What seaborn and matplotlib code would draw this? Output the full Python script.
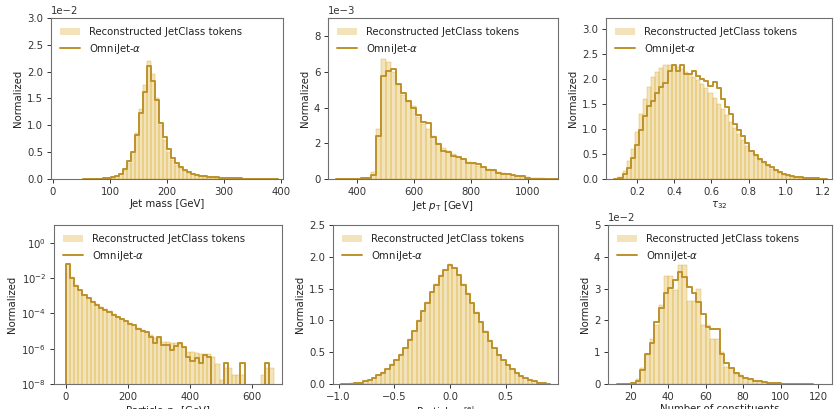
import numpy as np
import pandas as pd
import matplotlib
matplotlib.use("Agg")
import matplotlib.pyplot as plt
import seaborn as sns
from matplotlib.patches import Patch
from matplotlib.lines import Line2D
from matplotlib.ticker import MultipleLocator, NullLocator, FixedLocator

# ---------------- data ----------------
legend_labels = ["Reconstructed JetClass tokens", r"OmniJet-$\alpha$"]
x_labels = ["Jet mass [GeV]", r"Jet $p_\mathrm{T}$ [GeV]", r"$\tau_{32}$",
            r"Particle $p_\mathrm{T}$ [GeV]", r"Particle $\eta^\mathrm{rel}$",
            "Number of constituents"]

# Jet mass: bins of 7 GeV from 59 to 388
mass_bins = (59, 388, 47)
mass_tokens = [0.002, 0.003, 0.004, 0.006, 0.009, 0.014, 0.025, 0.05, 0.09, 0.17, 0.30, 0.50,
               0.85, 1.30, 1.75, 2.20, 1.95, 1.50, 1.00, 0.72, 0.50, 0.36, 0.27, 0.20, 0.15,
               0.12, 0.09, 0.07, 0.055, 0.045, 0.038, 0.032, 0.027, 0.022, 0.019, 0.016,
               0.013, 0.011, 0.009, 0.008, 0.007, 0.006, 0.005, 0.004, 0.003, 0.003, 0.002]
mass_omni = [0.002, 0.003, 0.005, 0.007, 0.01, 0.015, 0.03, 0.06, 0.10, 0.18, 0.33, 0.51,
             0.82, 1.23, 1.63, 2.10, 1.82, 1.47, 1.04, 0.79, 0.55, 0.40, 0.29, 0.22, 0.17,
             0.13, 0.10, 0.08, 0.06, 0.05, 0.04, 0.035, 0.03, 0.025, 0.02, 0.018, 0.015,
             0.012, 0.01, 0.008, 0.007, 0.006, 0.005, 0.004, 0.003, 0.003, 0.002]  # x1e-2

# Jet pT: bins of 17.5 GeV from 345
pt_bins = (345, 1097.5, 43)
pt_tokens = [0.01, 0.01, 0.01, 0.02, 0.03, 0.06, 0.4, 2.8, 6.75, 6.55, 6.0, 5.3, 4.7, 4.3,
             4.1, 3.5, 3.1, 2.8, 2.4, 2.0, 1.75, 1.55, 1.4, 1.25, 1.1, 0.95, 0.85, 0.75,
             0.65, 0.55, 0.45, 0.38, 0.32, 0.26, 0.22, 0.18, 0.14, 0.1, 0.07, 0.05, 0.03,
             0.02, 0.01]
pt_omni = [0.02, 0.02, 0.02, 0.02, 0.03, 0.05, 0.25, 2.4, 5.75, 6.05, 6.15, 5.35, 4.85, 4.35,
           4.0, 3.6, 3.2, 3.15, 2.35, 1.95, 1.55, 1.5, 1.3, 1.25, 1.1, 0.9, 0.88, 0.82,
           0.7, 0.5, 0.48, 0.36, 0.27, 0.3, 0.25, 0.18, 0.15, 0.05, 0.02, 0, 0, 0, 0]  # x1e-3

# tau32: 50 bins from 0.1 to 1.2
tau_bins = (0.1, 1.2, 50)
tau_tokens = [0.03, 0.15, 0.35, 0.6, 0.95, 1.3, 1.6, 1.85, 2.05, 2.15, 2.22, 2.28, 2.28, 2.28,
              2.25, 2.2, 2.15, 2.1, 2.05, 1.98, 1.9, 1.82, 1.72, 1.62, 1.5, 1.4, 1.28, 1.15,
              1.02, 0.9, 0.78, 0.66, 0.55, 0.46, 0.38, 0.31, 0.25, 0.2, 0.15, 0.11, 0.08,
              0.06, 0.04, 0.03, 0.02, 0.015, 0.01, 0.008, 0.005, 0.003]
tau_omni = [0.02, 0.1, 0.22, 0.42, 0.68, 0.98, 1.26, 1.46, 1.55, 1.72, 1.85, 1.93, 2.17, 2.28,
            2.17, 2.28, 2.1, 2.11, 2.16, 2.06, 2.0, 1.97, 1.86, 1.95, 1.82, 1.6, 1.45, 1.3,
            1.1, 0.98, 0.86, 0.72, 0.55, 0.47, 0.4, 0.34, 0.28, 0.24, 0.18, 0.14, 0.1,
            0.07, 0.05, 0.04, 0.03, 0.02, 0.02, 0.01, 0.01, 0.005]

# particle pT: 50 bins from 0 to 670 GeV (log scale)
ppt_bins = (0, 670, 50)
ppt_tokens = [6.3e-2, 1.1e-2, 4.0e-3, 2.0e-3, 1.1e-3, 7.1e-4, 4.7e-4, 3.2e-4, 2.2e-4, 1.7e-4,
              1.3e-4, 8.9e-5, 6.3e-5, 4.8e-5, 3.7e-5, 2.8e-5, 2.2e-5, 1.4e-5, 1.1e-5, 8.9e-6,
              6.3e-6, 4.0e-6, 4.0e-6, 2.5e-6, 2.5e-6, 2.2e-6, 2.0e-6, 1.8e-6, 1.3e-6, 6.3e-7,
              6.3e-7, 5.6e-7, 5.0e-7, 5.0e-7, 5.0e-7, 3.2e-7, 1.3e-7, 1.6e-8, 7.9e-8, 7.9e-8,
              3.2e-8, 3.2e-8, 3.2e-8, 0, 0, 0, 0, 3.2e-8, 7.9e-8, 7.9e-8]
ppt_omni = [5.9e-2, 1.0e-2, 3.7e-3, 2.0e-3, 1.1e-3, 7.1e-4, 4.6e-4, 3.0e-4, 2.1e-4, 1.6e-4,
            1.2e-4, 8.3e-5, 6.0e-5, 4.5e-5, 3.5e-5, 2.6e-5, 2.2e-5, 1.3e-5, 1.0e-5, 8.7e-6,
            4.8e-6, 2.0e-6, 4.5e-6, 1.6e-6, 1.6e-6, 8.3e-7, 1.4e-6, 2.2e-6, 1.3e-6, 3.2e-7,
            1.9e-7, 2.8e-7, 1.5e-7, 4.2e-7, 3.4e-7, 0, 0, 0, 1.5e-7, 0,
            0, 0, 1.5e-7, 0, 0, 0, 0, 0, 1.5e-7, 0]

# particle eta_rel: 45 bins of 0.04 from -0.94 to 0.86
eta_bins = (-0.94, 0.86, 45)
eta_tokens = [0.004, 0.008, 0.012, 0.02, 0.04, 0.07, 0.10, 0.14, 0.19, 0.24, 0.31, 0.38, 0.47,
              0.57, 0.70, 0.84, 1.00, 1.15, 1.29, 1.45, 1.58, 1.71, 1.80, 1.88, 1.83, 1.72,
              1.57, 1.43, 1.28, 1.13, 0.98, 0.83, 0.69, 0.57, 0.46, 0.37, 0.30, 0.23, 0.18,
              0.13, 0.09, 0.06, 0.04, 0.02, 0.008]
eta_omni = [0.003, 0.006, 0.01, 0.02, 0.04, 0.07, 0.10, 0.14, 0.18, 0.24, 0.30, 0.38, 0.46,
            0.56, 0.69, 0.83, 0.99, 1.14, 1.27, 1.44, 1.56, 1.70, 1.79, 1.87, 1.82, 1.71,
            1.56, 1.42, 1.27, 1.12, 0.97, 0.82, 0.68, 0.56, 0.46, 0.37, 0.30, 0.23, 0.18,
            0.13, 0.09, 0.06, 0.04, 0.02, 0.008]

# number of constituents: 40 bins of 2.5 from 15 to 115
n_bins = (15, 115, 40)
n_tokens = [0.005, 0.01, 0.03, 0.15, 0.5, 0.9, 1.4, 1.85, 2.5, 3.4, 3.4, 2.95, 3.75, 3.75,
            2.6, 2.6, 3.0, 1.85, 1.85, 1.4, 1.4, 1.02, 0.55, 0.5, 0.3, 0.28, 0.18, 0.15,
            0.1, 0.08, 0.06, 0.04, 0.03, 0.02, 0.015, 0.01, 0.008, 0.005, 0.003, 0.002]
n_omni = [0.005, 0.01, 0.03, 0.1, 0.45, 0.93, 1.28, 1.96, 2.38, 2.87, 3.03, 3.27, 3.53, 3.37,
          3.05, 2.85, 2.59, 2.2, 1.78, 1.73, 1.73, 0.95, 0.65, 0.5, 0.36, 0.26, 0.2, 0.15,
          0.11, 0.08, 0.06, 0.04, 0.03, 0.02, 0.015, 0.01, 0.007, 0.005, 0.003, 0.002]  # x1e-2

# ---------------- style ----------------
sns.set_theme(style="ticks")
FS = 7.3
plt.rcParams.update({
    "font.family": ["DejaVu Sans"],
    "font.size": FS, "axes.labelsize": FS, "xtick.labelsize": FS, "ytick.labelsize": FS,
    "legend.fontsize": FS, "axes.edgecolor": "#707070", "axes.linewidth": 0.8,
    "xtick.color": "#333333", "ytick.color": "#333333", "text.color": "#222222",
    "axes.labelcolor": "#222222", "xtick.major.size": 3, "ytick.major.size": 3,
    "xtick.major.width": 0.7, "ytick.major.width": 0.7,
    "xtick.major.pad": 2.5, "ytick.major.pad": 2.5, "axes.labelpad": 1.5,
})
FILL = "#daa520"
LINE = "#bd922a"

W, H = 834, 409
fig = plt.figure(figsize=(W / 100, H / 100), dpi=100)


def box(l, r, t, b):
    return [l / W, 1 - b / H, (r - l) / W, (b - t) / H]


def draw(ax, spec, tokens, omni, scale=1.0):
    lo, hi, n = spec
    w = (hi - lo) / n
    edges = np.linspace(lo - w, hi + w, n + 3)
    centers = (edges[:-1] + edges[1:]) / 2
    df = pd.DataFrame({
        "x": centers,
        "tok": np.concatenate([[0], np.asarray(tokens, float), [0]]) * scale,
        "omni": np.concatenate([[0], np.asarray(omni, float), [0]]) * scale,
    })
    sns.histplot(data=df, x="x", weights="tok", bins=n + 2, binrange=(lo - w, hi + w),
                 stat="count", element="bars", color=FILL, alpha=0.3,
                 edgecolor=FILL, linewidth=0.25, ax=ax)
    sns.histplot(data=df, x="x", weights="omni", bins=n + 2, binrange=(lo - w, hi + w),
                 stat="count", element="step", fill=False, color=LINE,
                 linewidth=1.4, ax=ax)
    ax.set_ylabel("Normalized", labelpad=3)
    handles = [Patch(facecolor=FILL, alpha=0.3, edgecolor="none"),
               Line2D([], [], color=LINE, lw=1.4)]
    ax.legend(handles, legend_labels, loc="upper left", frameon=False,
              handlelength=2.0, borderaxespad=0.5, labelspacing=0.45)


def sci(ax):
    ax.ticklabel_format(axis="y", style="sci", scilimits=(0, 0), useMathText=False)


# panel 1
ax = fig.add_axes(box(51, 283, 18, 179))
draw(ax, mass_bins, mass_tokens, mass_omni, 1e-2)
ax.set_xlim(-3.5, 403)
ax.set_ylim(0, 0.03)
ax.yaxis.set_major_locator(MultipleLocator(0.005))
sci(ax)
ax.set_xlabel(x_labels[0])

# panel 2
ax = fig.add_axes(box(328, 558, 18, 179))
draw(ax, pt_bins, pt_tokens, pt_omni, 1e-3)
ax.set_xlim(298, 1107)
ax.set_ylim(0, 0.00903)
ax.yaxis.set_major_locator(MultipleLocator(0.002))
ax.xaxis.set_major_locator(MultipleLocator(200))
sci(ax)
ax.set_xlabel(x_labels[1])

# panel 3
ax = fig.add_axes(box(606, 832, 18, 179))
draw(ax, tau_bins, tau_tokens, tau_omni)
ax.set_xlim(0.033, 1.248)
ax.set_ylim(0, 3.22)
ax.yaxis.set_major_locator(MultipleLocator(0.5))
ax.xaxis.set_major_locator(MultipleLocator(0.2))
ax.set_xlabel(x_labels[2])

# panel 4
ax = fig.add_axes(box(54, 282, 225, 384))
draw(ax, ppt_bins, ppt_tokens, ppt_omni)
ax.set_yscale("log")
ax.set_ylim(1e-8, 10)
ax.yaxis.set_major_locator(FixedLocator([1e-8, 1e-6, 1e-4, 1e-2, 1]))
ax.yaxis.set_minor_locator(NullLocator())
ax.set_xlim(-38, 697)
ax.xaxis.set_major_locator(MultipleLocator(200))
ax.set_xlabel(x_labels[3])

# panel 5
ax = fig.add_axes(box(333, 558, 225, 384))
draw(ax, eta_bins, eta_tokens, eta_omni)
ax.set_xlim(-1.05, 0.97)
ax.set_ylim(0, 2.5)
ax.yaxis.set_major_locator(MultipleLocator(0.5))
ax.xaxis.set_major_locator(MultipleLocator(0.5))
ax.set_xlabel(x_labels[4])

# panel 6
ax = fig.add_axes(box(608, 832, 225, 384))
draw(ax, n_bins, n_tokens, n_omni, 1e-2)
ax.set_xlim(7.7, 127.5)
ax.set_ylim(0, 0.05)
ax.yaxis.set_major_locator(MultipleLocator(0.01))
ax.xaxis.set_major_locator(MultipleLocator(20))
sci(ax)
ax.set_xlabel(x_labels[5])

fig.savefig("out.png", dpi=100)
